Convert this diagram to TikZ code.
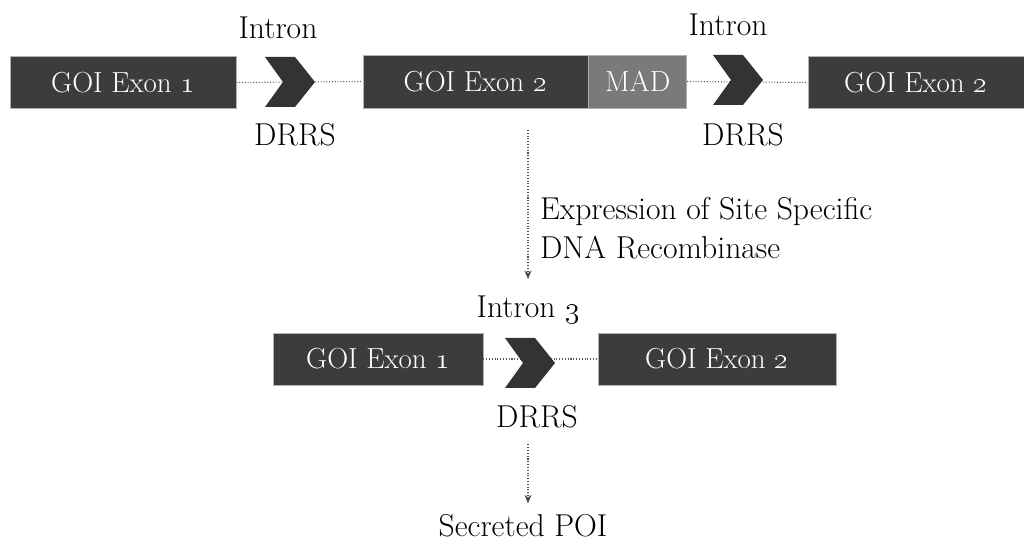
\documentclass[tikz,border=0pt]{standalone}
\usetikzlibrary{arrows.meta}
\definecolor{exonfill}{HTML}{3C3C3C}
\definecolor{madfill}{HTML}{7A7A7A}
\definecolor{chevfill}{HTML}{333333}
\begin{document}
\begin{tikzpicture}[x=0.02cm,y=-0.02cm,
  exon/.style={draw=gray!60, fill=exonfill, text=white, minimum height=1.04cm,
    inner sep=0pt, font=\fontsize{16.5}{19}\selectfont},
  madbox/.style={exon, fill=madfill},
  label/.style={font=\fontsize{18}{22}\selectfont, inner sep=1pt},
  link/.style={densely dotted, gray!70!black, line width=0.6pt},
  flow/.style={densely dotted, gray!60!black, line width=0.6pt,
    -{Stealth[length=5pt,width=4pt]}},
  chevron/.pic={
    \fill[chevfill] (-25,-25) -- (5,-25) -- (25,0) -- (5,25) -- (-25,25) -- (-7,0) -- cycle;
    \coordinate (-tip) at (25,0);
  }]
\useasboundingbox (0,0) rectangle (1024,546);

% ---- construct before recombination
\node[exon, minimum width=4.52cm] (e1) at (123,82.5) {GOI Exon \oldstylenums{1}};
\node[exon, minimum width=4.5cm, minimum height=1.06cm] (e2) at (475.5,81.5) {GOI Exon \oldstylenums{2}};
\node[madbox, minimum width=1.96cm, minimum height=1.06cm, anchor=west] (mad) at (e2.east) {MAD};
\node[exon, minimum width=4.32cm] (e3) at (916,82.5) {GOI Exon \oldstylenums{2}};

\draw[link] (e1.east) -- (e2.west);
\draw[link] (mad.east) -- (e3.west);
\pic (c1) at (290,82) {chevron};
\pic (c2) at (738,80) {chevron};

\node[label] (in1) at (278,28) {Intron};
\node[label] (dr1) at (295,135) {DRRS};
\node[label] (in2) at (728,25) {Intron};
\node[label] (dr2) at (743,135) {DRRS};

% ---- recombination step
\coordinate (a1) at (528,130);
\node[label] (in3) at (528,310) {Intron \oldstylenums{3}};
\draw[flow, shorten >=0.3cm] (a1) -- (in3.north);
\node[label, anchor=west, align=left] (rec) at (538,228)
  {Expression of Site Specific\\DNA Recombinase};

% ---- construct after recombination
\node[exon, minimum width=4.2cm] (b1) at (378,359) {GOI Exon \oldstylenums{1}};
\node[exon, minimum width=4.76cm] (b2) at (717,359) {GOI Exon \oldstylenums{2}};
\draw[link] (b1.east) -- (b2.west);
\pic (c3) at (530,363) {chevron};
\node[label] (dr3) at (537,417) {DRRS};
\node[label] (poi) at (523,526) {Secreted POI};
\draw[flow, shorten <=0.28cm, shorten >=0.18cm] (in3 |- dr3.south) -- (in3 |- poi.north);
\end{tikzpicture}
\end{document}
